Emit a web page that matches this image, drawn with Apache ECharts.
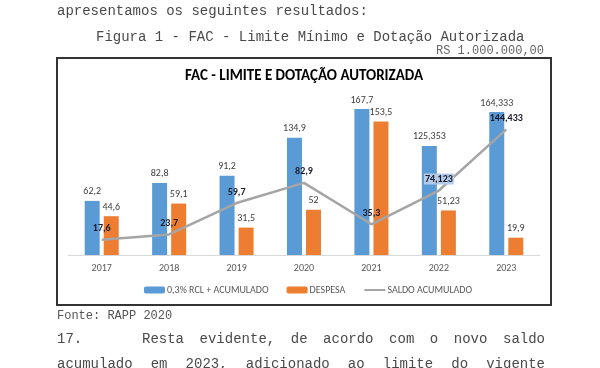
<!DOCTYPE html>
<html><head><meta charset="utf-8">
<script src="https://cdn.jsdelivr.net/npm/echarts@6/dist/echarts.min.js"></script>
<style>
html,body{margin:0;padding:0;background:#fff;}
#chart{position:absolute;left:0;top:0;width:600px;height:368px;}
.doc{position:absolute;font-family:'Liberation Mono','Courier New',monospace;color:#4a4a4a;white-space:pre;line-height:20px;}
.just{text-align:justify;text-align-last:justify;white-space:normal;}
</style>
</head><body>
<div id="chart"></div>
<div class="doc" style="left:57px;top:1px;font-size:14px;">apresentamos os seguintes resultados:</div>
<div class="doc" style="left:96px;top:27px;font-size:14px;">Figura 1 - FAC - Limite Mínimo e Dotação Autorizada</div>
<div class="doc" style="left:436px;top:41px;font-size:12px;color:#666;">RS 1.000.000,00</div>
<div class="doc" style="left:57px;top:306px;font-size:12px;color:#555;">Fonte: RAPP 2020</div>
<div class="doc" style="left:57px;top:329px;font-size:14px;">17.</div>
<div class="doc just" style="left:142px;top:329px;width:403px;font-size:14px;">Resta evidente, de acordo com o novo saldo</div>
<div class="doc just" style="left:57px;top:354px;width:488px;font-size:14px;">acumulado em 2023, adicionado ao limite do vigente</div>
<script>
var categories = ['2017','2018','2019','2020','2021','2022','2023'];
var rclAcumulado = [62.2, 82.8, 91.2, 134.9, 167.7, 125.353, 164.333];
var despesa = [44.6, 59.1, 31.5, 52, 153.5, 51.23, 19.9];
var saldoAcumulado = [17.6, 23.7, 59.7, 82.9, 35.3, 74.123, 144.433];
var seriesNames = ['0,3% RCL + ACUMULADO', 'DESPESA', 'SALDO ACUMULADO'];
var chartTitle = 'FAC - LIMITE E DOTAÇÃO AUTORIZADA';

var FONT = 'Carlito, Calibri, sans-serif';
function fmt(p){ return String(p.value).replace('.', ','); }

var saldoData = saldoAcumulado.map(function(v, i){
  if (i === 5) {
    return {value: v, label: {backgroundColor: '#B3CBE8', padding: [1, 1, 0, 1]}};
  }
  return v;
});

var chart = echarts.init(document.getElementById('chart'), null, {renderer: 'canvas'});
chart.setOption({
  backgroundColor: 'transparent',
  animation: false,
  textStyle: {fontFamily: FONT},
  graphic: [
    {type: 'rect', shape: {x: 57, y: 58, width: 494, height: 247},
     style: {fill: 'none', stroke: '#333', lineWidth: 2}, z: 100},
    {type: 'text', x: 304, y: 76,
     style: {text: chartTitle, font: 'bold 15px ' + FONT, fill: '#000',
             textAlign: 'center', textVerticalAlign: 'middle'}}
  ],
  grid: {left: 68, right: 60, top: 81, bottom: 113, containLabel: false},
  legend: {
    data: [seriesNames[0], seriesNames[1],
           {name: seriesNames[2], itemStyle: {opacity: 0}}],
    left: 144, top: 285, padding: 0,
    itemWidth: 21, itemHeight: 7, itemGap: 18,
    textStyle: {fontFamily: FONT, fontSize: 10, color: '#595959', padding: [0,0,0,-3]}
  },
  xAxis: {
    type: 'category', data: categories,
    axisLine: {lineStyle: {color: '#D9D9D9', width: 1}},
    axisTick: {show: false},
    axisLabel: {fontFamily: FONT, fontSize: 10, color: '#595959', margin: 8}
  },
  yAxis: {type: 'value', min: 0, max: 200, show: false, splitLine: {show: false}},
  series: [
    {name: seriesNames[0], type: 'bar', data: rclAcumulado, barWidth: 15, barGap: '27%',
     itemStyle: {color: '#5B9BD5'},
     label: {show: true, position: 'top', distance: 4, formatter: fmt,
             fontFamily: FONT, fontSize: 10, color: '#404040'}},
    {name: seriesNames[1], type: 'bar', data: despesa, barWidth: 15,
     itemStyle: {color: '#ED7D31'},
     label: {show: true, position: 'top', distance: 4, formatter: fmt,
             fontFamily: FONT, fontSize: 10, color: '#404040'}},
    {name: seriesNames[2], type: 'line', data: saldoData,
     symbol: 'circle', symbolSize: 0, showSymbol: true,
     lineStyle: {color: '#A5A5A5', width: 2.5},
     itemStyle: {color: '#A5A5A5'},
     z: 5,
     label: {show: true, position: 'top', distance: 6, formatter: fmt,
             fontFamily: FONT, fontSize: 10, fontWeight: 'bold', color: '#1A1A2A'}}
  ]
});
</script>
</body></html>
